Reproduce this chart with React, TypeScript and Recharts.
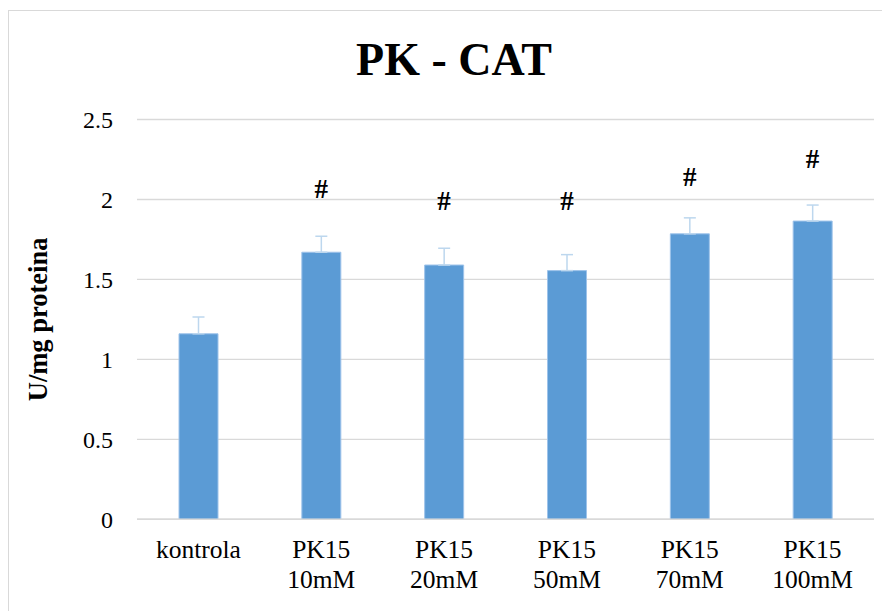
import React from 'react';
import { ComposedChart, Bar, Line, XAxis, YAxis, CartesianGrid, ErrorBar } from 'recharts';

const categories = ['kontrola', 'PK15 10mM', 'PK15 20mM', 'PK15 50mM', 'PK15 70mM', 'PK15 100mM'];
const means = [1.16, 1.67, 1.59, 1.555, 1.785, 1.865];
const errors = [0.105, 0.1, 0.105, 0.1, 0.1, 0.1];
const markPositions: (number | null)[] = [null, 2.065, 1.99, 1.99, 2.14, 2.25];
const yTicks = [0, 0.5, 1, 1.5, 2, 2.5];
const title = 'PK - CAT';
const yTitle = 'U/mg proteina';

const data = categories.map((c, i) => ({
  name: c,
  value: means[i],
  err: [0, errors[i]],
  mark: markPositions[i],
}));

const FONT = "Liberation Serif, 'Times New Roman', Times, 'DejaVu Serif', serif";

const XTick = (props: any) => {
  const { x, y, payload } = props;
  const lines = String(payload.value).split(' ');
  return (
    <g>
      {lines.map((l: string, i: number) => (
        <text key={i} x={x} y={y + 39 + i * 30} textAnchor="middle" fontSize={25.5} style={{ fontFamily: FONT }} fill="#000">
          {l}
        </text>
      ))}
    </g>
  );
};

const YLabel = (props: any) => {
  const vb = props.viewBox || {};
  const cy = vb.y != null && vb.height != null ? vb.y + vb.height / 2 : 311;
  const cx = 30;
  return (
    <text
      x={cx}
      y={cy}
      transform={`rotate(-90 ${cx} ${cy})`}
      textAnchor="middle"
      dominantBaseline="central"
      fontSize={26.5}
      fontWeight="bold"
      style={{ fontFamily: FONT }}
      fill="#000"
    >
      {yTitle}
    </text>
  );
};

const HashDot = (props: any) => {
  const { cx, cy, value } = props;
  if (value == null || cx == null || cy == null || isNaN(cy)) return null;
  return (
    <text x={cx} y={cy} textAnchor="middle" dominantBaseline="central" fontSize={27} fontWeight="bold" style={{ fontFamily: FONT }} fill="#000">
      #
    </text>
  );
};

export default function App() {
  return (
    <div style={{ position: 'relative', width: 882, height: 603, overflow: 'hidden', background: '#fff', fontFamily: FONT }}>
      <div
        style={{
          position: 'absolute',
          left: 0,
          top: 2,
          width: 1000,
          height: 1000,
          borderLeft: '1.5px solid #d9d9d9',
          borderTop: '1.5px solid #d9d9d9',
        }}
      />
      <div
        style={{
          position: 'absolute',
          left: 0,
          top: 29,
          width: 892,
          textAlign: 'center',
          fontFamily: FONT,
          fontWeight: 'bold',
          fontSize: 46,
          lineHeight: '46px',
          color: '#000',
        }}
      >
        {title}
      </div>
      <div style={{ position: 'absolute', left: 0, top: 0 }}>
        <ComposedChart width={882} height={603} data={data} margin={{ top: 111.5, right: 16, bottom: 0, left: 0 }}>
          <CartesianGrid vertical={false} stroke="#d9d9d9" strokeWidth={1.4} />
          <XAxis
            dataKey="name"
            height={91.7}
            tickLine={false}
            tickSize={0}
            tickMargin={0}
            axisLine={{ stroke: '#d9d9d9', strokeWidth: 1.4 }}
            tick={<XTick />}
            interval={0}
          />
          <YAxis
            width={129}
            domain={[0, 2.5]}
            ticks={yTicks}
            axisLine={false}
            tickLine={false}
            tickSize={0}
            tickMargin={24}
            tick={{ fontSize: 24, fill: '#000', style: { fontFamily: FONT } }}
            label={<YLabel />}
          />
          <Bar dataKey="value" fill="#5B9BD5" stroke="#9ec3ea" strokeWidth={1} barSize={39} isAnimationActive={false}>
            <ErrorBar dataKey="err" direction="y" width={6} stroke="#bdd7ee" strokeWidth={1.5} isAnimationActive={false} />
          </Bar>
          <Line
            dataKey="mark"
            stroke="none"
            dot={<HashDot />}
            activeDot={false}
            isAnimationActive={false}
            connectNulls={false}
            legendType="none"
          />
        </ComposedChart>
      </div>
    </div>
  );
}
